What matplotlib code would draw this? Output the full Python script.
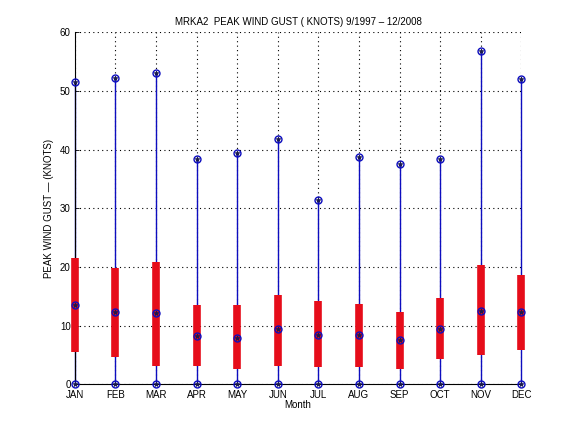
import numpy as np
import matplotlib.pyplot as plt

months = ['JAN', 'FEB', 'MAR', 'APR', 'MAY', 'JUN',
          'JUL', 'AUG', 'SEP', 'OCT', 'NOV', 'DEC']
gust_min = [0, 0, 0, 0, 0, 0, 0, 0, 0, 0, 0, 0]
gust_q1 = [5.6, 4.6, 3.2, 3.1, 2.7, 3.1, 2.9, 2.9, 2.7, 4.3, 5.1, 5.8]
gust_med = [13.6, 12.3, 12.1, 8.2, 8.0, 9.4, 8.5, 8.5, 7.5, 9.5, 12.6, 12.3]
gust_q3 = [21.5, 19.8, 20.8, 13.5, 13.5, 15.3, 14.3, 13.8, 12.3, 14.7, 20.3, 18.7]
gust_max = [51.5, 52.3, 53.0, 38.4, 39.4, 41.8, 31.4, 38.7, 37.5, 38.4, 56.8, 52.0]

plt.rcParams['font.family'] = ['Liberation Sans', 'DejaVu Sans']
plt.rcParams['font.size'] = 7

fig = plt.figure(figsize=(5.76, 4.32), dpi=100)
ax = fig.add_axes([0.13, 0.11, 0.775, 0.815])

x = np.arange(1, 13)
blue = (0.05, 0.05, 0.75)

ax.vlines(x, gust_min, gust_max, color=blue, lw=1.0, zorder=2, clip_on=False)
ax.vlines(x, gust_q1, gust_q3, color=(0.9, 0.05, 0.1), lw=5.5, zorder=3, clip_on=False)
for vals in (gust_min, gust_med, gust_max):
    ax.plot(x, vals, 'o', mfc='none', mec=blue, ms=5, mew=1.0, zorder=4, clip_on=False)
    ax.plot(x, vals, '*', color=(0.1, 0.1, 0.3), ms=3.5, mew=0.6, zorder=5, clip_on=False)

ax.set_xlim(1, 12)
ax.set_ylim(0, 60)
ax.set_xticks(x)
ax.set_xticklabels(months)
ax.set_yticks(np.arange(0, 61, 10))
ax.grid(True, color='black', linestyle=(0, (1, 3)), lw=0.8)
ax.set_axisbelow(True)
for s in ('top', 'right'):
    ax.spines[s].set_visible(False)
ax.tick_params(direction='in', length=3, width=0.6, labelsize=7)
ax.tick_params(axis='x', pad=4)
ax.tick_params(axis='y', pad=3)

ax.set_title('MRKA2  PEAK WIND GUST ( KNOTS) 9/1997 \u2013 12/2008', fontsize=7, pad=5)
ax.set_xlabel('Month', fontsize=7, labelpad=0)
ax.set_ylabel('PEAK WIND GUST \u2014 (KNOTS)', fontsize=7, labelpad=4)

fig.savefig('out.png', dpi=100)
